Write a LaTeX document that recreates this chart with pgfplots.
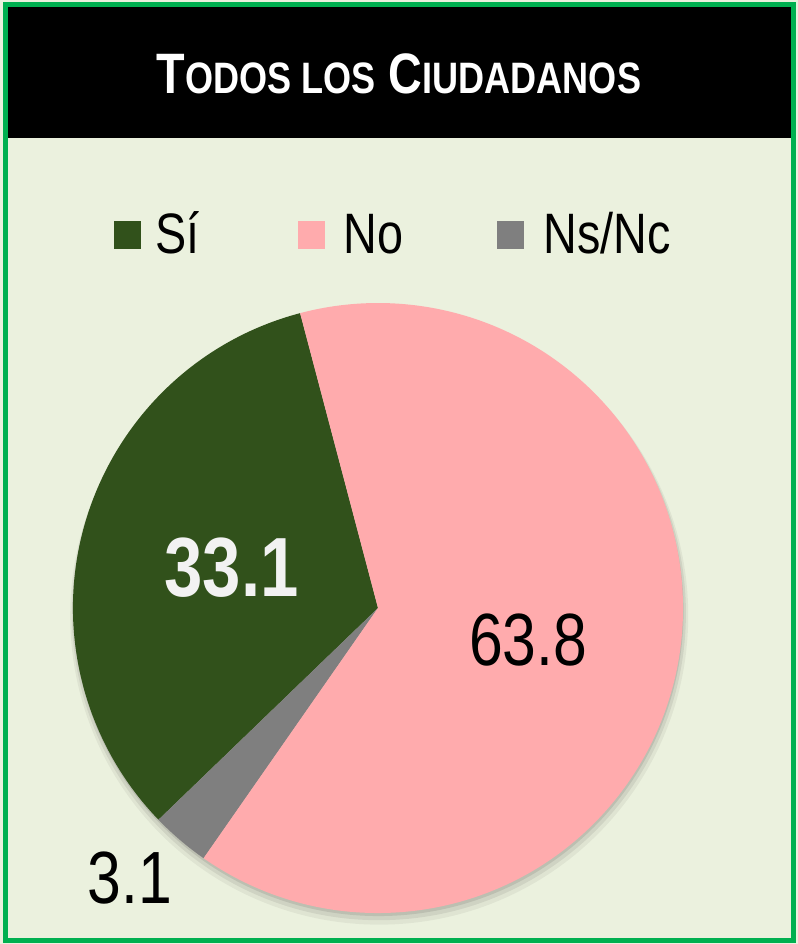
\documentclass[border=0pt]{standalone}
\usepackage{pgfplots}
\pgfplotsset{compat=1.18}
\usepackage{fontspec}
\setmainfont{Liberation Sans}[FakeStretch=0.82]
\definecolor{sigreen}{HTML}{31511B}
\definecolor{nopink}{HTML}{FFABAD}
\definecolor{nsgray}{HTML}{7F7F7F}
\definecolor{bgpanel}{HTML}{EBF1DE}
\definecolor{framegreen}{HTML}{00B050}
% data (percent)
\pgfmathsetmacro\vSi{33.1}
\pgfmathsetmacro\vNs{3.1}
\pgfmathsetmacro\vNo{63.8}
\pgfmathsetmacro\aA{104.8}
\pgfmathsetmacro\aB{\aA+3.6*\vSi}
\pgfmathsetmacro\aC{\aB+3.6*\vNs}
\pgfmathsetmacro\aD{\aC+3.6*\vNo}
\begin{document}
\begin{tikzpicture}
\begin{scope}[x=0.5pt,y=-0.5pt]
\fill[bgpanel] (0,0) rectangle (798,944);
\fill[black] (8,6) rectangle (791,138);
\draw[framegreen, line width=2.5pt] (5.5,4.5) rectangle (793.5,940);
\node[white, anchor=base, inner sep=0pt, font=\bfseries\fontsize{28.5}{31}\selectfont] at (399,93)
  {T{\fontsize{22}{24}\selectfont ODOS LOS} C{\fontsize{22}{24}\selectfont IUDADANOS}};
% legend
\fill[sigreen] (114,221) rectangle (141,249);
\node[anchor=base west, inner sep=0pt, font=\fontsize{28.5}{30}\selectfont] at (155,253) {Sí};
\fill[nopink] (298,221) rectangle (325,249);
\node[anchor=base west, inner sep=0pt, font=\fontsize{28.5}{30}\selectfont] at (343,253) {No};
\fill[nsgray] (497,221) rectangle (524,249);
\node[anchor=base west, inner sep=0pt, font=\fontsize{28.5}{30}\selectfont] at (543,253) {Ns/Nc};
\end{scope}
\begin{axis}[at={(189pt,-304pt)}, anchor=center, hide axis, scale only axis,
  width=305pt, height=305pt, xmin=-1, xmax=1, ymin=-1, ymax=1, clip=false]
  \fill[black, opacity=0.05] (axis cs:0.004,-0.025) circle[radius=154.5pt];
  \fill[black, opacity=0.07] (axis cs:0.003,-0.017) circle[radius=153.5pt];
  \fill[black, opacity=0.09] (axis cs:0.002,-0.01) circle[radius=152.5pt];
  \fill[sigreen] (axis cs:0,0) -- (axis cs:{cos(\aA)},{sin(\aA)}) arc[start angle=\aA, end angle=\aB, radius=152.5pt] -- cycle;
  \fill[nsgray] (axis cs:0,0) -- (axis cs:{cos(\aB)},{sin(\aB)}) arc[start angle=\aB, end angle=\aC, radius=152.5pt] -- cycle;
  \fill[nopink] (axis cs:0,0) -- (axis cs:{cos(\aC)},{sin(\aC)}) arc[start angle=\aC, end angle=\aD, radius=152.5pt] -- cycle;
  \node[text=white!95!black, font=\bfseries\fontsize{42}{44}\selectfont] at (axis cs:-0.48,0.131) {33.1};
  \node[font=\fontsize{37}{40}\selectfont] at (axis cs:0.492,-0.105) {63.8};
  \node[font=\fontsize{37}{40}\selectfont] at (axis cs:-0.813,-0.885) {3.1};
\end{axis}
\pgfresetboundingbox
\path[use as bounding box] (0pt,0pt) rectangle (399pt,-472pt);
\end{tikzpicture}
\end{document}
